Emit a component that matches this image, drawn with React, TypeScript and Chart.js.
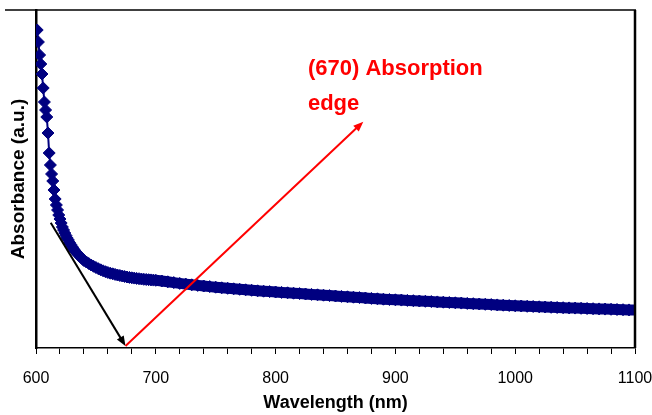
import React, { useEffect, useRef } from "react";
import { Chart, registerables } from "chart.js";

Chart.register(...registerables);

// Wavelength (nm) of each measured point
const wavelengths: number[] = [
  601, 602, 603, 604, 605, 606, 607, 608, 609, 610,
  611, 612, 613, 614, 615, 616, 617, 618, 619, 620,
  621, 622, 623, 624, 625, 626, 627, 628, 629, 630,
  631, 632, 633, 634, 635, 636, 637, 638, 639, 640,
  642, 644, 646, 648, 650, 652, 654, 656, 658, 660,
  662, 664, 666, 668, 670, 672, 674, 676, 678, 680,
  682, 684, 686, 688, 690, 692, 694, 696, 698, 700,
  705, 710, 715, 720, 725, 730, 735, 740, 745, 750,
  755, 760, 765, 770, 775, 780, 785, 790, 795, 800,
  805, 810, 815, 820, 825, 830, 835, 840, 845, 850,
  855, 860, 865, 870, 875, 880, 885, 890, 895, 900,
  905, 910, 915, 920, 925, 930, 935, 940, 945, 950,
  955, 960, 965, 970, 975, 980, 985, 990, 995, 1000,
  1005, 1010, 1015, 1020, 1025, 1030, 1035, 1040, 1045, 1050,
  1055, 1060, 1065, 1070, 1075, 1080, 1085, 1090, 1095, 1100,
];

// Absorbance (a.u.)
const absorbance: number[] = [
  3.17, 3.05, 2.92, 2.83, 2.73, 2.59, 2.45, 2.37, 2.30, 2.14,
  1.94, 1.82, 1.73, 1.66, 1.57, 1.48, 1.42, 1.37, 1.32, 1.28,
  1.24, 1.20, 1.17, 1.14, 1.115, 1.09, 1.07, 1.045, 1.025, 1.005,
  0.987, 0.97, 0.955, 0.94, 0.927, 0.915, 0.902, 0.89, 0.877, 0.865,
  0.85, 0.835, 0.82, 0.807, 0.795, 0.783, 0.772, 0.762, 0.753, 0.745,
  0.738, 0.732, 0.726, 0.72, 0.715, 0.71, 0.705, 0.70, 0.696, 0.692,
  0.689, 0.686, 0.683, 0.68, 0.677, 0.675, 0.673, 0.671, 0.669, 0.667,
  0.66, 0.652, 0.644, 0.636, 0.629, 0.622, 0.616, 0.61, 0.604, 0.598,
  0.592, 0.587, 0.582, 0.577, 0.572, 0.567, 0.562, 0.558, 0.554, 0.55,
  0.546, 0.542, 0.538, 0.534, 0.53, 0.526, 0.522, 0.518, 0.514, 0.51,
  0.506, 0.502, 0.498, 0.494, 0.49, 0.486, 0.482, 0.478, 0.475, 0.472,
  0.469, 0.466, 0.463, 0.46, 0.457, 0.454, 0.451, 0.448, 0.445, 0.442,
  0.439, 0.436, 0.433, 0.43, 0.427, 0.424, 0.421, 0.418, 0.415, 0.412,
  0.41, 0.407, 0.405, 0.402, 0.40, 0.397, 0.395, 0.393, 0.391, 0.389,
  0.387, 0.385, 0.383, 0.381, 0.379, 0.377, 0.375, 0.373, 0.371, 0.37,
];

// Labelled x ticks
const majorTicks: number[] = [600, 700, 800, 900, 1000, 1100];
const minorStep = 20;
const xMin = 600;
const xMax = 1100;
const yMin = -0.01;
const yMax = 3.37;

// Annotation (data coordinates)
const blackArrowStart: [number, number] = [612.3, 1.243];
const arrowTip: [number, number] = [674.7, 0.01];
const redArrowEnd: [number, number] = [873.2, 2.253];
const annotationLines: string[] = ["(670) Absorption", "edge"];
const annotationAnchor: [number, number] = [827, 2.72];

const FONT = "'Liberation Sans', Arial, Helvetica, sans-serif";
const NAVY = "#000080";

function drawArrow(
  ctx: CanvasRenderingContext2D,
  x1: number, y1: number, x2: number, y2: number,
  color: string
) {
  const ang = Math.atan2(y2 - y1, x2 - x1);
  const len = 10;
  const hw = 4;
  ctx.save();
  ctx.strokeStyle = color;
  ctx.fillStyle = color;
  ctx.lineWidth = 2;
  ctx.beginPath();
  ctx.moveTo(x1, y1);
  ctx.lineTo(x2 - Math.cos(ang) * len * 0.6, y2 - Math.sin(ang) * len * 0.6);
  ctx.stroke();
  ctx.beginPath();
  ctx.moveTo(x2, y2);
  ctx.lineTo(
    x2 - Math.cos(ang) * len - Math.sin(ang) * hw,
    y2 - Math.sin(ang) * len + Math.cos(ang) * hw
  );
  ctx.lineTo(
    x2 - Math.cos(ang) * len + Math.sin(ang) * hw,
    y2 - Math.sin(ang) * len - Math.cos(ang) * hw
  );
  ctx.closePath();
  ctx.fill();
  ctx.restore();
}

const framePlugin = {
  id: "frame",
  afterDraw(chart: any) {
    const { ctx, chartArea } = chart;
    ctx.save();
    ctx.strokeStyle = "#000";
    ctx.lineWidth = 1.5;
    ctx.beginPath();
    ctx.moveTo(chartArea.left - 31, chartArea.top);
    ctx.lineTo(chartArea.right + 1, chartArea.top);
    ctx.stroke();
    ctx.lineWidth = 2.5;
    ctx.beginPath();
    ctx.moveTo(chartArea.right, chartArea.top);
    ctx.lineTo(chartArea.right, chartArea.bottom);
    ctx.stroke();
    ctx.restore();
  },
};

const annotationPlugin = {
  id: "edgeAnnotation",
  afterDraw(chart: any) {
    const { ctx } = chart;
    const xs = chart.scales.x;
    const ys = chart.scales.y;
    const px = (p: [number, number]) => [xs.getPixelForValue(p[0]), ys.getPixelForValue(p[1])];
    const [bx, by] = px(blackArrowStart);
    const [tx, ty] = px(arrowTip);
    const [rx, ry] = px(redArrowEnd);
    drawArrow(ctx, bx, by, tx, ty, "#000");
    drawArrow(ctx, tx, ty, rx, ry, "#ff0000");
    const [ax, ay] = px(annotationAnchor);
    ctx.save();
    ctx.fillStyle = "#ff0000";
    ctx.font = `bold 22px ${FONT}`;
    ctx.textAlign = "left";
    ctx.textBaseline = "alphabetic";
    annotationLines.forEach((line, i) => {
      ctx.fillText(line, ax, ay + i * 35);
    });
    ctx.restore();
  },
};

export default function App() {
  const canvasRef = useRef<HTMLCanvasElement | null>(null);

  useEffect(() => {
    if (!canvasRef.current) return;
    const points = wavelengths.map((w, i) => ({ x: w, y: absorbance[i] }));
    const chart = new Chart(canvasRef.current, {
      type: "scatter",
      data: {
        datasets: [
          {
            label: "Absorbance",
            data: points,
            showLine: true,
            borderColor: NAVY,
            borderWidth: 2,
            segment: {
              borderWidth: (c: any) => (c.p0.parsed.x >= 700 ? 11 : 2),
            },
            pointStyle: "rectRot",
            pointRadius: 6,
            pointBackgroundColor: NAVY,
            pointBorderColor: NAVY,
            pointBorderWidth: 1,
          } as any,
        ],
      },
      options: {
        responsive: false,
        animation: false,
        layout: { padding: { top: 10, right: 17, left: 0, bottom: 0 } },
        plugins: {
          legend: { display: false },
          tooltip: { enabled: false },
        },
        scales: {
          x: {
            type: "linear",
            min: xMin,
            max: xMax,
            afterBuildTicks: (scale: any) => {
              const t: any[] = [];
              for (let v = xMin; v <= xMax; v += minorStep) t.push({ value: v });
              scale.ticks = t;
            },
            ticks: {
              autoSkip: false,
              maxRotation: 0,
              color: "#000",
              font: { family: FONT, size: 16 },
              padding: 15,
              callback: (v: any) => (majorTicks.includes(Number(v)) ? String(v) : ""),
            },
            grid: {
              display: true,
              drawOnChartArea: false,
              drawTicks: true,
              tickLength: 6,
              color: "#000",
              lineWidth: 1,
            },
            border: { display: true, color: "#000", width: 1.5 },
            title: {
              display: true,
              text: "Wavelength (nm)",
              color: "#000",
              font: { family: FONT, size: 18, weight: "bold" },
              padding: { top: 0, bottom: 1 },
            },
            afterFit: (scale: any) => {
              scale.height = 67;
              scale.paddingLeft = 0;
              scale.paddingRight = 0;
            },
          },
          y: {
            type: "linear",
            min: yMin,
            max: yMax,
            ticks: { display: false },
            grid: { display: false, drawTicks: false },
            border: { display: true, color: "#000", width: 2.5 },
            title: {
              display: true,
              text: "Absorbance (a.u.)",
              color: "#000",
              font: { family: FONT, size: 19, weight: "bold" },
              padding: { top: 7, bottom: 0 },
            },
            afterFit: (scale: any) => {
              scale.width = 36;
            },
          },
        },
      } as any,
      plugins: [framePlugin, annotationPlugin],
    });
    return () => chart.destroy();
  }, []);

  return (
    <div style={{ position: "fixed", left: 0, top: 0, width: 652, height: 415, background: "#fff" }}>
      <canvas ref={canvasRef} width={652} height={415} style={{ display: "block" }} />
    </div>
  );
}
